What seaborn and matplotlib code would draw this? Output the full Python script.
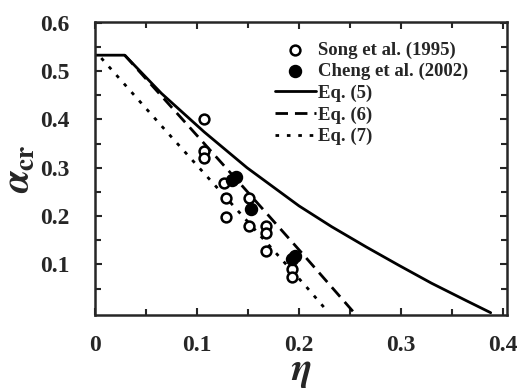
import matplotlib
matplotlib.use("Agg")
import matplotlib.pyplot as plt
import numpy as np
import pandas as pd
import seaborn as sns

# Datos
song_eta = [0.107, 0.107, 0.107, 0.126, 0.128, 0.128, 0.151, 0.151, 0.168, 0.168, 0.168, 0.193, 0.193]
song_alpha = [0.400, 0.335, 0.320, 0.268, 0.238, 0.198, 0.238, 0.180, 0.180, 0.164, 0.128, 0.090, 0.074]

cheng_eta = [0.134, 0.138, 0.153, 0.193, 0.196]
cheng_alpha = [0.274, 0.280, 0.215, 0.112, 0.118]

eq5_eta = [0.0, 0.029, 0.065, 0.107, 0.149, 0.200, 0.232, 0.266, 0.298, 0.330, 0.364, 0.388]
eq5_alpha = [0.533, 0.533, 0.454, 0.374, 0.300, 0.221, 0.178, 0.136, 0.098, 0.061, 0.025, 0.0]

eq6_eta = [0.029, 0.090, 0.144, 0.203, 0.254]
eq6_alpha = [0.533, 0.390, 0.263, 0.123, 0.0]

eq7_eta = [0.006, 0.070, 0.207, 0.229]
eq7_alpha = [0.527, 0.375, 0.054, 0.0]

x_ticks = [0, 0.1, 0.2, 0.3, 0.4]
x_ticklabels = ["0", "0.1", "0.2", "0.3", "0.4"]
y_ticks = [0.1, 0.2, 0.3, 0.4, 0.5, 0.6]
y_ticklabels = ["0.1", "0.2", "0.3", "0.4", "0.5", "0.6"]

sns.set_theme(style="ticks")
plt.rcParams["font.family"] = ["Liberation Serif", "DejaVu Serif"]
plt.rcParams["font.weight"] = "bold"
plt.rcParams["mathtext.fontset"] = "stix"

fig = plt.figure(figsize=(5.2, 3.9), dpi=100)
ax = fig.add_axes([0.183, 0.192, 0.792, 0.752])

lw = 2.0
sns.lineplot(x=eq5_eta, y=eq5_alpha, ax=ax, color="black", lw=lw, sort=False,
             estimator=None, label="Eq. (5)")
sns.lineplot(x=eq6_eta, y=eq6_alpha, ax=ax, color="black", lw=lw, sort=False,
             estimator=None, label="Eq. (6)")
sns.lineplot(x=eq7_eta, y=eq7_alpha, ax=ax, color="black", lw=lw, sort=False,
             estimator=None, label="Eq. (7)")
ax.lines[1].set_dashes([4.5, 2.5])
ax.lines[2].set_dashes([1.3, 2.8])

sns.scatterplot(x=song_eta, y=song_alpha, ax=ax, marker="o", s=50, facecolor="white",
                edgecolor="black", linewidth=1.8, zorder=3, label="Song et al. (1995)")
sns.scatterplot(x=cheng_eta, y=cheng_alpha, ax=ax, marker="o", s=75, color="black",
                edgecolor="black", linewidth=1, zorder=4, label="Cheng et al. (2002)")

handles, labels = ax.get_legend_handles_labels()
order = [3, 4, 0, 1, 2]
ax.legend([handles[i] for i in order], [labels[i] for i in order],
          loc="upper left", bbox_to_anchor=(0.436, 0.933), frameon=False,
          fontsize=13.5, handlelength=2.2, handletextpad=0.1, labelspacing=0.23,
          borderaxespad=0, borderpad=0)

ax.set_xlim(0, 0.404)
ax.set_ylim(-0.005, 0.602)
ax.set_xticks(x_ticks)
ax.set_xticklabels(x_ticklabels)
ax.set_yticks(y_ticks)
ax.set_yticklabels(y_ticklabels)
ax.set_xticks(np.arange(0.05, 0.4, 0.1), minor=True)
ax.set_yticks(np.arange(0.05, 0.6, 0.1), minor=True)
ax.tick_params(which="both", direction="in", top=True, right=True, width=1.5,
               labelsize=17)
ax.tick_params(axis="x", pad=14)
ax.tick_params(axis="y", pad=18.5)
ax.tick_params(which="major", length=5)
ax.tick_params(which="minor", length=4)
for s in ax.spines.values():
    s.set_linewidth(1.8)
    s.set_visible(True)

ax.set_xlabel(r"$\eta$", fontsize=28, labelpad=-2)
ax.set_ylabel(r"$\alpha_{\rm cr}$", fontsize=28, labelpad=2)

fig.savefig("out.png", dpi=100)
